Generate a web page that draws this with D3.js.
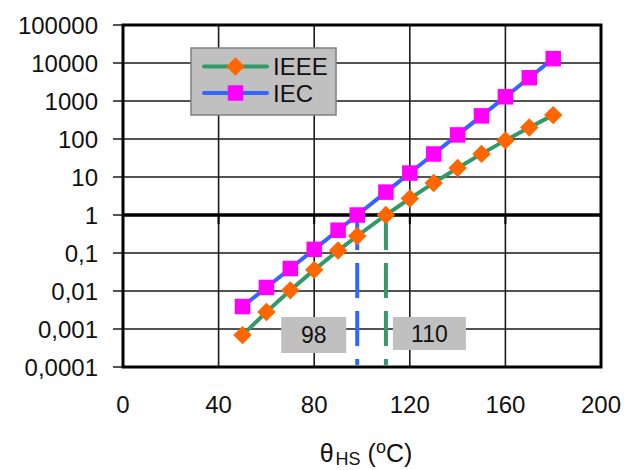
<!DOCTYPE html>
<html><head><meta charset="utf-8">
<script src="https://cdn.jsdelivr.net/npm/d3@7"></script>
<style>
html,body{margin:0;padding:0;background:#fff;}
text{font-family:"Liberation Sans",Arial,sans-serif;fill:#111;}
</style></head>
<body>
<svg id="c" width="626" height="470"></svg>
<script>
const temps = [50,60,70,80,90,98,110,120,130,140,150,160,170,180];
const ieee = [0.00069,0.0028,0.0104,0.036,0.116,0.28,1.0,2.71,6.98,17.2,40.6,92,201,425];
const iec  = [0.0039,0.0124,0.039,0.125,0.397,1.0,4.0,12.7,40.3,128,406,1290,4096,13000];
const xTicks = [0,40,80,120,160,200];
const yTicks = [1e5,1e4,1e3,100,10,1,0.1,0.01,0.001,0.0001];
const yTickLabels = ["100000","10000","1000","100","10","1","0,1","0,01","0,001","0,0001"];
const markerTemps = [98,110];
const markerLabels = ["98","110"];
const seriesNames = ["IEEE","IEC"];

const svg = d3.select("#c");
const L=123,R=601,T=25,B=367;
const x = d3.scaleLinear().domain([0,200]).range([L,R]);
const y = d3.scaleLog().domain([1e-4,1e5]).range([B,T]);

// gridlines
const g = svg.append("g");
g.selectAll(".hg").data(yTicks).join("line")
  .attr("x1",L-10).attr("x2",R).attr("y1",d=>y(d)).attr("y2",d=>y(d))
  .attr("stroke","#1a1a1a").attr("stroke-width",1.6);
g.selectAll(".vg").data(xTicks.slice(1,-1)).join("line")
  .attr("x1",d=>x(d)).attr("x2",d=>x(d)).attr("y1",T).attr("y2",B)
  .attr("stroke","#1a1a1a").attr("stroke-width",1.6);
// frame
svg.append("rect").attr("x",L).attr("y",T).attr("width",R-L).attr("height",B-T)
  .attr("fill","none").attr("stroke","#000").attr("stroke-width",3);
// x axis line at 1
svg.append("line").attr("x1",L).attr("x2",R).attr("y1",y(1)).attr("y2",y(1))
  .attr("stroke","#000").attr("stroke-width",3.5);
svg.selectAll(".xt").data(xTicks).join("line")
  .attr("x1",d=>x(d)).attr("x2",d=>x(d)).attr("y1",y(1)).attr("y2",y(1)+9)
  .attr("stroke","#000").attr("stroke-width",2);

// tick labels
svg.selectAll(".yl").data(yTicks).join("text")
  .attr("x",98).attr("y",d=>y(d)).attr("dy","0.36em")
  .attr("text-anchor","end").attr("font-size",24)
  .text((d,i)=>yTickLabels[i]);
svg.selectAll(".xl").data(xTicks).join("text")
  .attr("x",d=>x(d)).attr("y",413)
  .attr("text-anchor","middle").attr("font-size",24)
  .text(d=>d);

// axis title
const ttl = svg.append("text").attr("x",366).attr("y",462).attr("text-anchor","middle").attr("font-size",25);
ttl.append("tspan").text("θ");
ttl.append("tspan").attr("font-size",18).attr("dx",2).attr("dy",3).text("HS");
ttl.append("tspan").attr("dy",-3).text(" (");
ttl.append("tspan").attr("font-size",18).attr("dy",-9).text("o");
ttl.append("tspan").attr("dy",9).text("C)");

// dashed reference lines
const refColors = ["#3366ff","#339966"];
svg.selectAll(".ref").data(markerTemps).join("line")
  .attr("x1",d=>x(d)).attr("x2",d=>x(d)).attr("y1",y(1)).attr("y2",B-2)
  .attr("stroke",(d,i)=>refColors[i]).attr("stroke-width",4)
  .attr("stroke-dasharray","35,13");

// label boxes
const boxes = [
  {x0:x(markerTemps[0])-76, w:65, y0:317, h:36},
  {x0:x(markerTemps[1])+7, w:73, y0:317, h:33}
];
boxes.forEach((b,i)=>{
  svg.append("rect").attr("x",b.x0).attr("y",b.y0).attr("width",b.w).attr("height",b.h).attr("fill","#c0c0c0");
  svg.append("text").attr("x",b.x0+b.w/2).attr("y",b.y0+b.h/2).attr("dy","0.36em")
    .attr("text-anchor","middle").attr("font-size",23).text(markerLabels[i]);
});

// series lines
const line = d3.line().x(d=>x(d[0])).y(d=>y(d[1]));
const ieeeData = temps.map((t,i)=>[t,ieee[i]]);
const iecData = temps.map((t,i)=>[t,iec[i]]);
svg.append("path").datum(iecData).attr("d",line).attr("fill","none").attr("stroke","#3366ff").attr("stroke-width",4);
svg.append("path").datum(ieeeData).attr("d",line).attr("fill","none").attr("stroke","#339966").attr("stroke-width",4);

const sq = d3.symbol().type(d3.symbolSquare).size(240);
const dm = d3.symbol().type(d3.symbolSquare).size(170);
svg.selectAll(".iec").data(iecData).join("path").attr("d",sq)
  .attr("transform",d=>`translate(${x(d[0])},${y(d[1])})`).attr("fill","#ff00ff");
svg.selectAll(".ieee").data(ieeeData).join("path").attr("d",dm)
  .attr("transform",d=>`translate(${x(d[0])},${y(d[1])}) rotate(45)`).attr("fill","#ff6600");

// legend
const lg = svg.append("g");
lg.append("rect").attr("x",191).attr("y",48).attr("width",145).attr("height",67)
  .attr("fill","#c0c0c0").attr("stroke","#808080").attr("stroke-width",1.5);
const items = [
  {name:seriesNames[0], color:"#339966", y:66.5, marker:"diamond"},
  {name:seriesNames[1], color:"#3366ff", y:93, marker:"square"}
];
items.forEach(it=>{
  lg.append("line").attr("x1",204).attr("x2",267).attr("y1",it.y).attr("y2",it.y)
    .attr("stroke",it.color).attr("stroke-width",4).attr("stroke-linecap","round");
  if(it.marker==="diamond"){
    lg.append("path").attr("d",dm).attr("transform",`translate(235.5,${it.y}) rotate(45)`).attr("fill","#ff6600");
  } else {
    lg.append("path").attr("d",sq).attr("transform",`translate(235.5,${it.y})`).attr("fill","#ff00ff");
  }
  lg.append("text").attr("x",273).attr("y",it.y).attr("dy","0.36em").attr("font-size",24).text(it.name);
});
</script>
</body></html>
